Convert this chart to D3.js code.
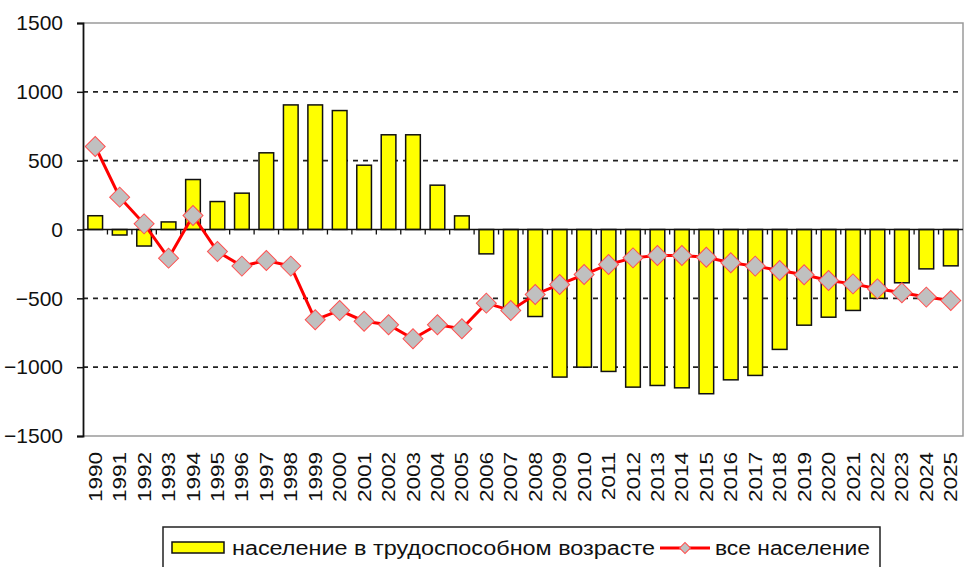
<!DOCTYPE html>
<html>
<head>
<meta charset="utf-8">
<script src="https://cdn.jsdelivr.net/npm/d3@7"></script>
<style>
  body { margin: 0; background: #fff; }
  svg { display: block; font-family: "Liberation Sans", Arial, sans-serif; }
</style>
</head>
<body>
<svg id="chart"></svg>
<script>
// categories (years)
let years = ['1990', '1991', '1992', '1993', '1994', '1995', '1996', '1997', '1998', '1999',
  '2000', '2001', '2002', '2003', '2004', '2005', '2006', '2007', '2008', '2009',
  '2010', '2011', '2012', '2013', '2014', '2015', '2016', '2017', '2018', '2019',
  '2020', '2021', '2022', '2023', '2024', '2025'];

// население в трудоспособном возрасте (bars)
let working = [100, -40, -120, 55, 363, 203, 264, 557, 905, 905,
  864, 467, 688, 688, 322, 99, -177, -575, -632, -1072,
  -1000, -1031, -1145, -1133, -1150, -1193, -1092, -1060, -871, -695,
  -637, -588, -500, -387, -286, -264];

// все население (line)
let total = [603, 235, 41, -208, 102, -160, -266, -225, -266, -656,
  -588, -666, -692, -794, -692, -721, -535, -588, -472, -399,
  -327, -254, -206, -189, -189, -201, -242, -266, -298, -329,
  -370, -395, -431, -460, -491, -516];

let yTicks = [-1500, -1000, -500, 0, 500, 1000, 1500];
let seriesNames = ['население в трудоспособном возрасте', 'все население'];

// configuration of svg/plot area
let config = {
  'svg': {},
  'margin': {},
  'plot': {}
};

config.svg.width = 965;
config.svg.height = 567;

config.margin.top = 23;
config.margin.right = 2;
config.margin.bottom = 131;
config.margin.left = 83;

config.plot.width = config.svg.width - config.margin.left - config.margin.right;
config.plot.height = config.svg.height - config.margin.top - config.margin.bottom;

let svg = d3.select('body').select('#chart');
svg.attr('width', config.svg.width);
svg.attr('height', config.svg.height);

let data = years.map((y, i) => ({year: y, working: working[i], total: total[i]}));

let x = d3.scaleBand()
  .domain(years)
  .range([0, config.plot.width])
  .paddingInner(0.4)
  .paddingOuter(0.2);

let y = d3.scaleLinear()
  .domain([-1500, 1500])
  .range([config.plot.height, 0]);

let plot = svg.append('g').attr('transform', translate(config.margin.left, config.margin.top));

// frame (top, right, bottom in gray)
plot.append('path')
  .attr('d', 'M0,' + y(1500) + 'H' + config.plot.width + 'V' + y(-1500) + 'H0')
  .attr('fill', 'none')
  .attr('stroke', '#9a9a9a')
  .attr('stroke-width', 1.5);

// dashed grid lines
plot.append('g')
  .selectAll('line')
  .data(yTicks.filter(d => d !== 0 && Math.abs(d) !== 1500))
  .join('line')
  .attr('x1', 0)
  .attr('x2', config.plot.width)
  .attr('y1', d => y(d))
  .attr('y2', d => y(d))
  .attr('stroke', '#222')
  .attr('stroke-width', 1.6)
  .attr('stroke-dasharray', '5,5');

// bars
plot.append('g')
  .selectAll('rect')
  .data(data)
  .join('rect')
  .attr('x', d => x(d.year))
  .attr('width', x.bandwidth())
  .attr('y', d => y(Math.max(0, d.working)))
  .attr('height', d => Math.abs(y(d.working) - y(0)))
  .attr('fill', '#ffff00')
  .attr('stroke', '#111')
  .attr('stroke-width', 1.5);

// x axis at zero with ticks between categories
let step = x.step();
let xAxisG = plot.append('g').attr('transform', translate(0, y(0)));
xAxisG.append('line')
  .attr('x1', 0).attr('x2', config.plot.width)
  .attr('stroke', '#111').attr('stroke-width', 1.6);
xAxisG.selectAll('line.tick')
  .data(years.slice(1))
  .join('line')
  .attr('class', 'tick')
  .attr('x1', d => x(d) - step * x.paddingInner() / 2)
  .attr('x2', d => x(d) - step * x.paddingInner() / 2)
  .attr('y1', 0).attr('y2', 5)
  .attr('stroke', '#111').attr('stroke-width', 1.3);

// y axis
let yAxis = d3.axisLeft(y).tickValues(yTicks).tickFormat(d3.format('d')).tickSize(6).tickPadding(14);
let yGroup = plot.append('g').call(yAxis);
yGroup.select('.domain').attr('stroke', '#111').attr('stroke-width', 1.8);
yGroup.selectAll('.tick line').attr('stroke', '#111').attr('stroke-width', 1.5);
yGroup.selectAll('.tick text')
  .attr('font-size', 21)
  .attr('font-family', '"Liberation Sans", Arial, sans-serif')
  .attr('fill', '#111');

// x labels (rotated)
plot.append('g')
  .selectAll('text')
  .data(years)
  .join('text')
  .attr('transform', d => translate(x(d) + x.bandwidth() / 2 + 6.5, config.plot.height + 16) + ' rotate(-90) scale(1.25,1)')
  .attr('text-anchor', 'end')
  .attr('font-size', 18)
  .attr('fill', '#111')
  .text(d => d);

// line for total population
let line = d3.line()
  .x(d => x(d.year) + x.bandwidth() / 2)
  .y(d => y(d.total));

plot.append('path')
  .datum(data)
  .attr('d', line)
  .attr('fill', 'none')
  .attr('stroke', '#ff0000')
  .attr('stroke-width', 3);

let diamond = d3.symbol().type(d3.symbolSquare).size(200);

plot.append('g')
  .selectAll('path')
  .data(data)
  .join('path')
  .attr('d', diamond)
  .attr('transform', d => translate(x(d.year) + x.bandwidth() / 2, y(d.total)) + ' rotate(45)')
  .attr('fill', '#c0c0c0')
  .attr('stroke', '#ff5050')
  .attr('stroke-width', 1);

// legend
let legend = svg.append('g').attr('transform', translate(163, 527));
legend.append('rect')
  .attr('width', 717).attr('height', 50)
  .attr('fill', '#fff').attr('stroke', '#222').attr('stroke-width', 1.5);

legend.append('rect')
  .attr('x', 9).attr('y', 15).attr('width', 52).attr('height', 11)
  .attr('fill', '#ffff00').attr('stroke', '#111').attr('stroke-width', 1.5);

legend.append('text')
  .attr('x', 69).attr('y', 28)
  .attr('font-size', 20)
  .attr('textLength', 423)
  .attr('lengthAdjust', 'spacingAndGlyphs')
  .attr('fill', '#111')
  .text(seriesNames[0]);

legend.append('line')
  .attr('x1', 497).attr('x2', 547).attr('y1', 21).attr('y2', 21)
  .attr('stroke', '#ff0000').attr('stroke-width', 3);
legend.append('path')
  .attr('d', d3.symbol().type(d3.symbolSquare).size(60))
  .attr('transform', translate(522, 21) + ' rotate(45)')
  .attr('fill', '#c0c0c0').attr('stroke', '#ff5050').attr('stroke-width', 1);

legend.append('text')
  .attr('x', 552).attr('y', 28)
  .attr('font-size', 20)
  .attr('textLength', 155)
  .attr('lengthAdjust', 'spacingAndGlyphs')
  .attr('fill', '#111')
  .text(seriesNames[1]);

// helper method to make translating easier
function translate(x, y) {
  return 'translate(' + x + ',' + y + ')';
}
</script>
</body>
</html>
